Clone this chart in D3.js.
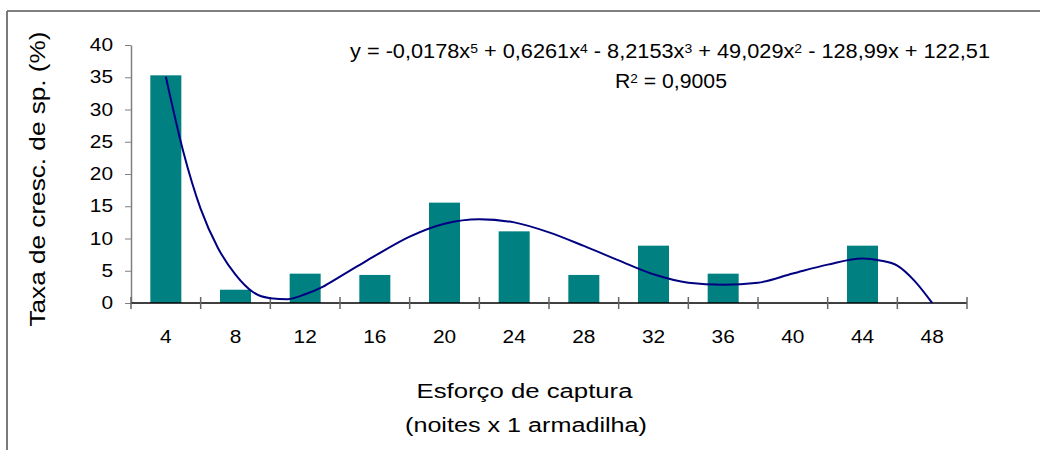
<!DOCTYPE html>
<html>
<head>
<meta charset="utf-8">
<script src="https://cdn.jsdelivr.net/npm/d3@7"></script>
<style>
    body { margin: 0; background: #fff; }
    svg { display: block; font-family: Arial, "Liberation Sans", sans-serif; }
</style>
</head>
<body>
<div id="chart"><svg></svg></div>
<script>
//Data
const categories = [4, 8, 12, 16, 20, 24, 28, 32, 36, 40, 44, 48];
const taxa = [35.3, 2.06, 4.55, 4.35, 15.56, 11.11, 4.35, 8.89, 4.55, 0, 8.89, 0];
const yTicks = [0, 5, 10, 15, 20, 25, 30, 35, 40];

// trend line (5th order polynomial), x = category index
const trendX = [1, 1.25, 1.5, 1.75, 2, 2.25, 2.5, 2.75, 3, 3.25, 3.5, 3.75, 4, 4.5, 5, 5.5, 6, 6.5, 7, 7.5, 8, 8.5, 9, 9.5, 10, 10.5, 11, 11.25, 11.5, 11.75, 12];
const trendY = [35.1, 23.5, 14.6, 8.5, 4.4, 1.7, 0.75, 0.6, 1.35, 2.5, 4.1, 5.7, 7.3, 10.3, 12.3, 13.0, 12.5, 10.95, 8.85, 6.6, 4.45, 3.15, 2.84, 3.15, 4.57, 5.95, 6.9, 6.6, 5.8, 3.4, 0];

const eqParts = [
    ['y = -0,0178x', '5'], [' + 0,6261x', '4'], [' - 8,2153x', '3'],
    [' + 49,029x', '2'], [' - 128,99x + 122,51', '']
];
const r2Parts = [['R', '2'], [' = 0,9005', '']];

const width = 1040, height = 450;
const margin = { top: 45, right: 73, bottom: 147, left: 131 };

const svg = d3.select('svg')
    .attr('width', width)
    .attr('height', height);

// chart border (only top and left visible)
svg.append('line').attr('x1', 7).attr('x2', width).attr('y1', 11).attr('y2', 11)
    .attr('stroke', '#000').attr('stroke-width', 1);
svg.append('line').attr('x1', 7).attr('x2', 7).attr('y1', 11).attr('y2', height)
    .attr('stroke', '#7a7a7a').attr('stroke-width', 2);

const x = d3.scaleBand()
    .domain(categories)
    .range([margin.left, width - margin.right])
    .paddingInner(0.555)
    .paddingOuter(0.2775);

const y = d3.scaleLinear()
    .domain([0, 40])
    .range([height - margin.bottom, margin.top]);

const bw = x.bandwidth();
const xi = d3.scaleLinear()
    .domain([1, categories.length])
    .range([x(categories[0]) + bw / 2, x(categories[categories.length - 1]) + bw / 2]);

// Draw bars
svg.append('g')
    .attr('fill', '#008080')
    .selectAll('rect')
    .data(taxa)
    .join('rect')
    .attr('x', (d, i) => x(categories[i]))
    .attr('y', d => y(d))
    .attr('width', bw)
    .attr('height', d => y(0) - y(d));

// y axis
const yAxis = svg.append('g')
    .attr('transform', 'translate(' + margin.left + ',0)')
    .call(d3.axisLeft(y).tickValues(yTicks).tickSize(6).tickPadding(12).tickSizeOuter(0));
yAxis.select('.domain').attr('stroke', '#808080').attr('stroke-width', 1.5);
yAxis.selectAll('.tick line').attr('stroke', '#808080');
yAxis.selectAll('text')
    .attr('font-size', 17.5).attr('fill', '#000')
    .attr('font-family', 'Arial, "Liberation Sans", sans-serif')
    .attr('textLength', d => String(d).length * 11.6)
    .attr('lengthAdjust', 'spacingAndGlyphs');

// x axis (cross tick marks between categories)
const xb = svg.append('g').attr('transform', 'translate(0,' + y(0) + ')');
xb.append('line')
    .attr('x1', margin.left).attr('x2', width - margin.right)
    .attr('stroke', '#000').attr('stroke-width', 1.5);
const step = x.step();
xb.selectAll('line.tk')
    .data(d3.range(categories.length + 1))
    .join('line')
    .attr('class', 'tk')
    .attr('x1', i => margin.left + i * step)
    .attr('x2', i => margin.left + i * step)
    .attr('y1', -6).attr('y2', 6)
    .attr('stroke', '#666').attr('stroke-width', 1.5);
xb.selectAll('text')
    .data(categories)
    .join('text')
    .attr('x', d => x(d) + bw / 2)
    .attr('y', 39.5)
    .attr('text-anchor', 'middle')
    .attr('font-size', 17.5)
    .attr('textLength', d => String(d).length * 11.6)
    .attr('lengthAdjust', 'spacingAndGlyphs')
    .text(d => d);

// trend line
const line = d3.line()
    .x((d, i) => xi(trendX[i]))
    .y(d => y(d))
    .curve(d3.curveMonotoneX);
svg.append('path')
    .datum(trendY)
    .attr('d', line)
    .attr('fill', 'none')
    .attr('stroke', '#000080')
    .attr('stroke-width', 2);

// equation + R2
function supText(parts, cx, cy, len) {
    const t = svg.append('text')
        .attr('x', cx).attr('y', cy)
        .attr('text-anchor', 'middle')
        .attr('font-size', 19.5)
        .attr('textLength', len)
        .attr('lengthAdjust', 'spacingAndGlyphs');
    parts.forEach(p => {
        t.append('tspan').text(p[0]);
        if (p[1]) t.append('tspan').attr('font-size', 12.5).attr('baseline-shift', '40%').text(p[1]);
    });
}
supText(eqParts, 670, 57.5, 640);
supText(r2Parts, 671, 88.3, 112);

// axis titles
svg.append('text')
    .attr('transform', 'translate(45,179) rotate(-90)')
    .attr('text-anchor', 'middle')
    .attr('font-size', 22)
    .attr('textLength', 295)
    .attr('lengthAdjust', 'spacingAndGlyphs')
    .text('Taxa de cresc. de sp. (%)');

svg.append('text')
    .attr('x', 524.5).attr('y', 397.7)
    .attr('text-anchor', 'middle')
    .attr('font-size', 20)
    .attr('textLength', 216)
    .attr('lengthAdjust', 'spacingAndGlyphs')
    .text('Esforço de captura');

svg.append('text')
    .attr('x', 526).attr('y', 432)
    .attr('text-anchor', 'middle')
    .attr('font-size', 20)
    .attr('textLength', 242)
    .attr('lengthAdjust', 'spacingAndGlyphs')
    .text('(noites x 1 armadilha)');
</script>
</body>
</html>
